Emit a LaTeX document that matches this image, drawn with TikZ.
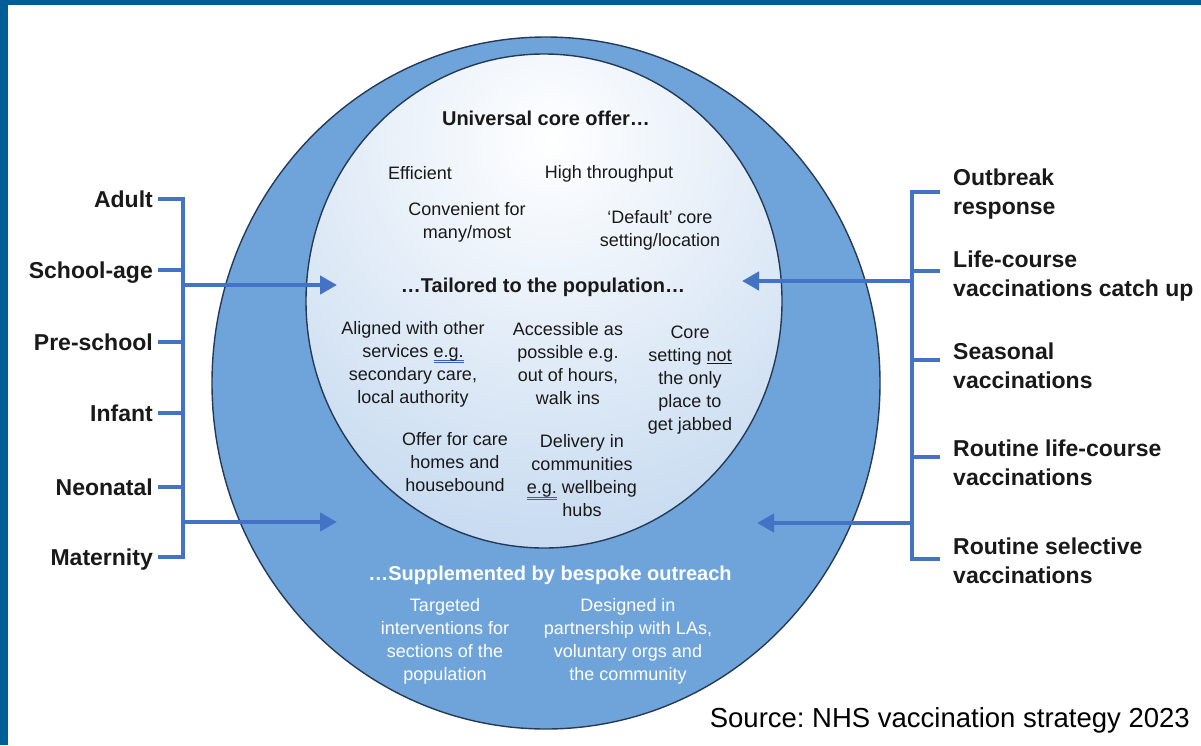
\documentclass[tikz,border=0pt]{standalone}
\usepackage{fontspec}
\setmainfont{Liberation Sans}
\usetikzlibrary{arrows.meta}
\frenchspacing
\definecolor{frameblue}{RGB}{0,94,150}
\definecolor{ringblue}{RGB}{111,164,218}
\definecolor{corebot}{RGB}{140,180,225}
\definecolor{edgecol}{RGB}{38,58,88}
\definecolor{linkblue}{RGB}{68,114,196}
\definecolor{ulblue}{RGB}{60,90,200}
\definecolor{ink}{RGB}{25,25,25}
\newcommand\egul[1]{\setbox0\hbox{#1}\rlap{\color{ulblue}\rule[-3.5pt]{\wd0}{0.9pt}}\rlap{\color{ulblue}\rule[-6pt]{\wd0}{0.9pt}}\box0\relax}
\newcommand\blul[1]{\setbox0\hbox{#1}\rlap{\rule[-2.8pt]{\wd0}{1pt}}\box0\relax}
\begin{document}
\begin{tikzpicture}[x=1pt,y=-1pt,
  side/.style={font=\fontsize{23}{28.5}\selectfont\bfseries, text=ink, inner sep=0pt},
  lside/.style={side, anchor=east, text height=16.5pt, text depth=0pt},
  rside/.style={side, anchor=west, align=left},
  body/.style={font=\fontsize{18}{23}\selectfont, text=ink, align=center, inner sep=0pt},
  head/.style={font=\fontsize{20}{24}\selectfont\bfseries, text=ink, inner sep=0pt},
  whead/.style={head, text=white},
  wbody/.style={body, text=white},
  link/.style={draw=linkblue, line width=4.5pt},
  arr/.style={link, -{Triangle[length=17pt,width=18pt]}},
  rim/.style={draw=edgecol, line width=1.4pt}]
\useasboundingbox (0,0) rectangle (1201,745);
\fill[white] (0,0) rectangle (1201,745);
\fill[frameblue] (0,0) rectangle (1201,4.5);
\fill[frameblue] (0,0) rectangle (7.5,745);

% circles
\fill[ringblue] (546,383) ellipse [x radius=334pt, y radius=346pt];
\begin{scope}
  \clip (544,301) ellipse [x radius=238pt, y radius=247pt];
  \shade[inner color=white, outer color=corebot] (550,140) circle [radius=840pt];
\end{scope}
\draw[rim] (546,383) ellipse [x radius=334pt, y radius=346pt];
\draw[rim] (544,301) ellipse [x radius=238pt, y radius=247pt];

% left labels
\node[lside] (adult) at (153,199) {Adult};
\node[lside] (school) at (153,270) {School-age};
\node[lside] (pre) at (153,342) {Pre-school};
\node[lside] (infant) at (153,413) {Infant};
\node[lside] (neo) at (153,487) {Neonatal};
\node[lside] (mat) at (153,557) {Maternity};
\coordinate (spineL) at (183,0);
\draw[link] ([xshift=5pt]adult.east) -- (adult.east -| spineL) -- (mat.east -| spineL) -- ([xshift=5pt]mat.east);
\foreach \n in {school,pre,infant,neo}
  \draw[link] ([xshift=5pt]\n.east) -- (\n.east -| spineL);
\coordinate (aL1s) at (183,285);
\coordinate (aL1t) at (337,285);
\coordinate (aL2s) at (183,522);
\coordinate (aL2t) at (337,522);
\draw[arr] (aL1s) -- (aL1t);
\draw[arr] (aL2s) -- (aL2t);

% right labels
\node[rside] (outb) at (953,194) {Outbreak\\response};
\node[rside] (life) at (953,276) {Life-course\\vaccinations catch up};
\node[rside] (seas) at (953,366) {Seasonal\\vaccinations};
\node[rside] (rlc) at (953,463) {Routine life-course\\vaccinations};
\node[rside] (rsel) at (953,561) {Routine selective\\vaccinations};
\coordinate (spineR) at (912,0);
\path ([yshift=2pt]outb.west) coordinate (r1)
      ([yshift=5pt]life.west) coordinate (r2)
      ([yshift=6pt]seas.west) coordinate (r3)
      ([yshift=6pt]rlc.west) coordinate (r4)
      ([yshift=2pt]rsel.west) coordinate (r5);
\draw[link] ([xshift=-13pt]r1) -- (r1 -| spineR) -- (r5 -| spineR) -- ([xshift=-13pt]r5);
\foreach \n in {r2,r3,r4}
  \draw[link] ([xshift=-13pt]\n) -- (\n -| spineR);
\coordinate (aR1s) at (912,281);
\coordinate (aR1t) at (742,281);
\coordinate (aR2s) at (912,523);
\coordinate (aR2t) at (757,523);
\draw[arr] (aR1s) -- (aR1t);
\draw[arr] (aR2s) -- (aR2t);

% core texts
\node[head] (univ) at (546,118) {Universal core offer…};
\node[body] (eff) at (420,173) {Efficient};
\node[body] (high) at (609,174) {High throughput};
\node[body] (conv) at (467,222) {Convenient for\\many/most};
\node[body] (deflt) at (660,230) {‘Default’ core\\setting/location};
\node[head] (tail) at (543,287) {…Tailored to the population…};
\node[body] (align) at (413,364) {Aligned with other\\services \egul{e.g.}\\secondary care,\\local authority};
\node[body] (access) at (568,364) {Accessible as\\possible e.g.\\out of hours,\\walk ins};
\node[body] (core) at (690,380) {Core\\setting \blul{not}\\the only\\place to\\get jabbed};
\node[body] (offer) at (455,462) {Offer for care\\homes and\\housebound};
\node[body] (deliv) at (582,476) {Delivery in\\communities\\\egul{e.g.} wellbeing\\hubs};

% outreach texts
\node[whead] (supp) at (550,575) {…Supplemented by bespoke outreach};
\node[wbody] (targ) at (445,641) {Targeted\\interventions for\\sections of the\\population};
\node[wbody] (design) at (628,641) {Designed in\\partnership with LAs,\\voluntary orgs and\\the community};

% source
\node[font=\fontsize{27.5}{30}\selectfont, text=black, anchor=east, inner sep=0pt] (src) at (1190,720) {Source: NHS vaccination strategy 2023};
\end{tikzpicture}
\end{document}
